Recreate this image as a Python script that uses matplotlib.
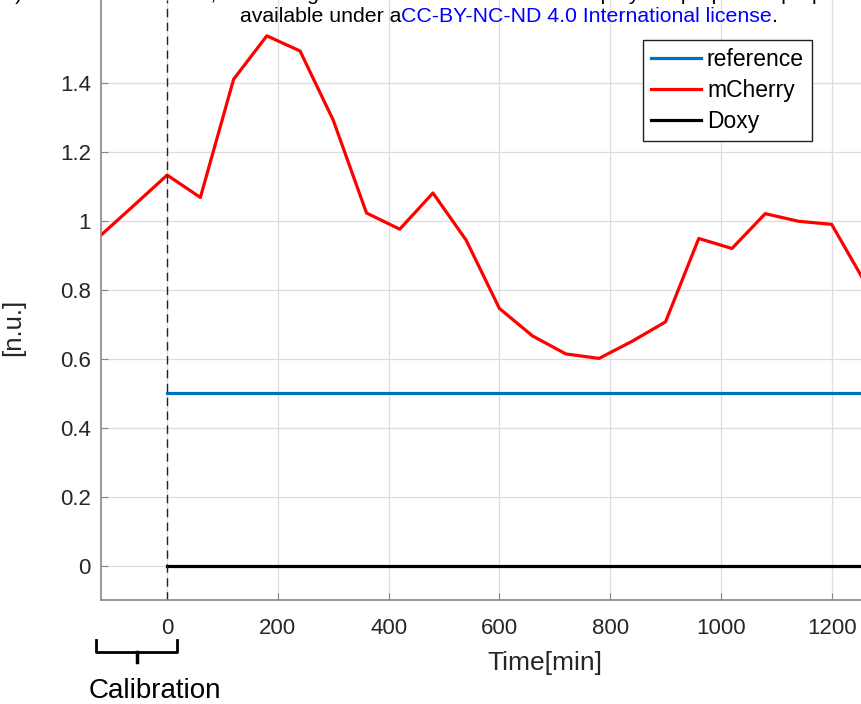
import matplotlib
matplotlib.use("Agg")
import matplotlib.pyplot as plt

plt.rcParams['font.family'] = ['Liberation Sans', 'DejaVu Sans']

# time points (min) and mCherry signal
t = [-120, -60, 0, 60, 120, 180, 240, 300, 360, 420, 480, 540, 600, 660,
     720, 780, 840, 900, 960, 1020, 1080, 1140, 1200, 1260]
mcherry = [0.958, 1.045, 1.133, 1.068, 1.411, 1.537, 1.493, 1.292, 1.023, 0.976,
           1.081, 0.944, 0.746, 0.666, 0.614, 0.601, 0.651, 0.707, 0.949, 0.920,
           1.021, 0.999, 0.990, 0.822]
t_ref = [0, 1260]
reference = [0.5, 0.5]
doxy = [0, 0]

xticks = [0, 200, 400, 600, 800, 1000, 1200]
yticks = [0, 0.2, 0.4, 0.6, 0.8, 1.0, 1.2, 1.4]
ytick_labels = ['0', '0.2', '0.4', '0.6', '0.8', '1', '1.2', '1.4']

txt = '#262626'
fig = plt.figure(figsize=(8.61, 7.04), dpi=100)
ax = fig.add_axes([100.7 / 861, 104 / 704, 1 - 100.7 / 861, 600 / 704])

ax.plot(t_ref, reference, color='#0072BD', lw=2.3, label='reference')
ax.plot(t, mcherry, color='red', lw=2.3, label='mCherry')
ax.plot(t_ref, doxy, color='black', lw=2.3, label='Doxy')
ax.axvline(0, color='#222222', lw=1, ls=(0, (6, 4)))

ax.set_xlim(-120, 1253)
ax.set_ylim(-0.1, 1.641)
ax.set_xticks(xticks)
ax.set_yticks(yticks)
ax.set_yticklabels(ytick_labels)
ax.tick_params(direction='in', length=5, labelsize=16, colors=txt,
               color='#888888')
ax.tick_params(axis='y', pad=7)
ax.tick_params(axis='x', pad=13)
ax.grid(True, color='#dddddd', lw=0.9)
ax.set_axisbelow(True)
for s in ['top', 'right']:
    ax.spines[s].set_visible(False)
for s in ['left', 'bottom']:
    ax.spines[s].set_color('#888888')
    ax.spines[s].set_linewidth(1.2)

ax.set_xlabel('Time[min]', fontsize=19, color=txt)
ax.xaxis.set_label_coords(0.584, -0.085)
ax.set_ylabel('[n.u.]', fontsize=18.5, color=txt)
ax.yaxis.set_label_coords(-0.1, 0.455)

leg = ax.legend(loc='upper right', bbox_to_anchor=(0.9355, 0.933),
                fontsize=16.5, frameon=True, fancybox=False, framealpha=1,
                edgecolor='#222222', handlelength=2.2, handletextpad=0.25,
                borderpad=0.35, labelspacing=0.35, borderaxespad=0)
leg.get_frame().set_linewidth(1.0)

# calibration brace below the axis
bx = [-129, -129, 17, 17]
by = [-0.215, -0.25, -0.25, -0.215]
ax.plot(bx, by, color='black', lw=2, clip_on=False, solid_joinstyle='round')
ax.plot([-55, -55], [-0.25, -0.279], color='black', lw=2.5, clip_on=False)
ax.text(-23, -0.363, 'Calibration', fontsize=20, color='black',
        ha='center', va='center', clip_on=False)

# bioRxiv header, partly cropped
fig.text(0.5, 1.008, 'ly peer review) is the author/funder, who has granted bioRxiv a license to display the preprint in perpetuity. It is made',
         ha='center', va='center', fontsize=15.3, color='black')
h1 = fig.text(240 / 861, 1 - 16 / 704, 'available under a', ha='left',
              va='center', fontsize=15.3, color='black')
h2 = ax.annotate('CC-BY-NC-ND 4.0 International license', xy=(1, 0),
                 xycoords=h1, ha='left', va='bottom', fontsize=15.3,
                 color='#0000ff', annotation_clip=False)
ax.annotate('.', xy=(1, 0), xycoords=h2, ha='left', va='bottom',
            fontsize=15.3, color='black', annotation_clip=False)

fig.savefig('out.png', dpi=100)
